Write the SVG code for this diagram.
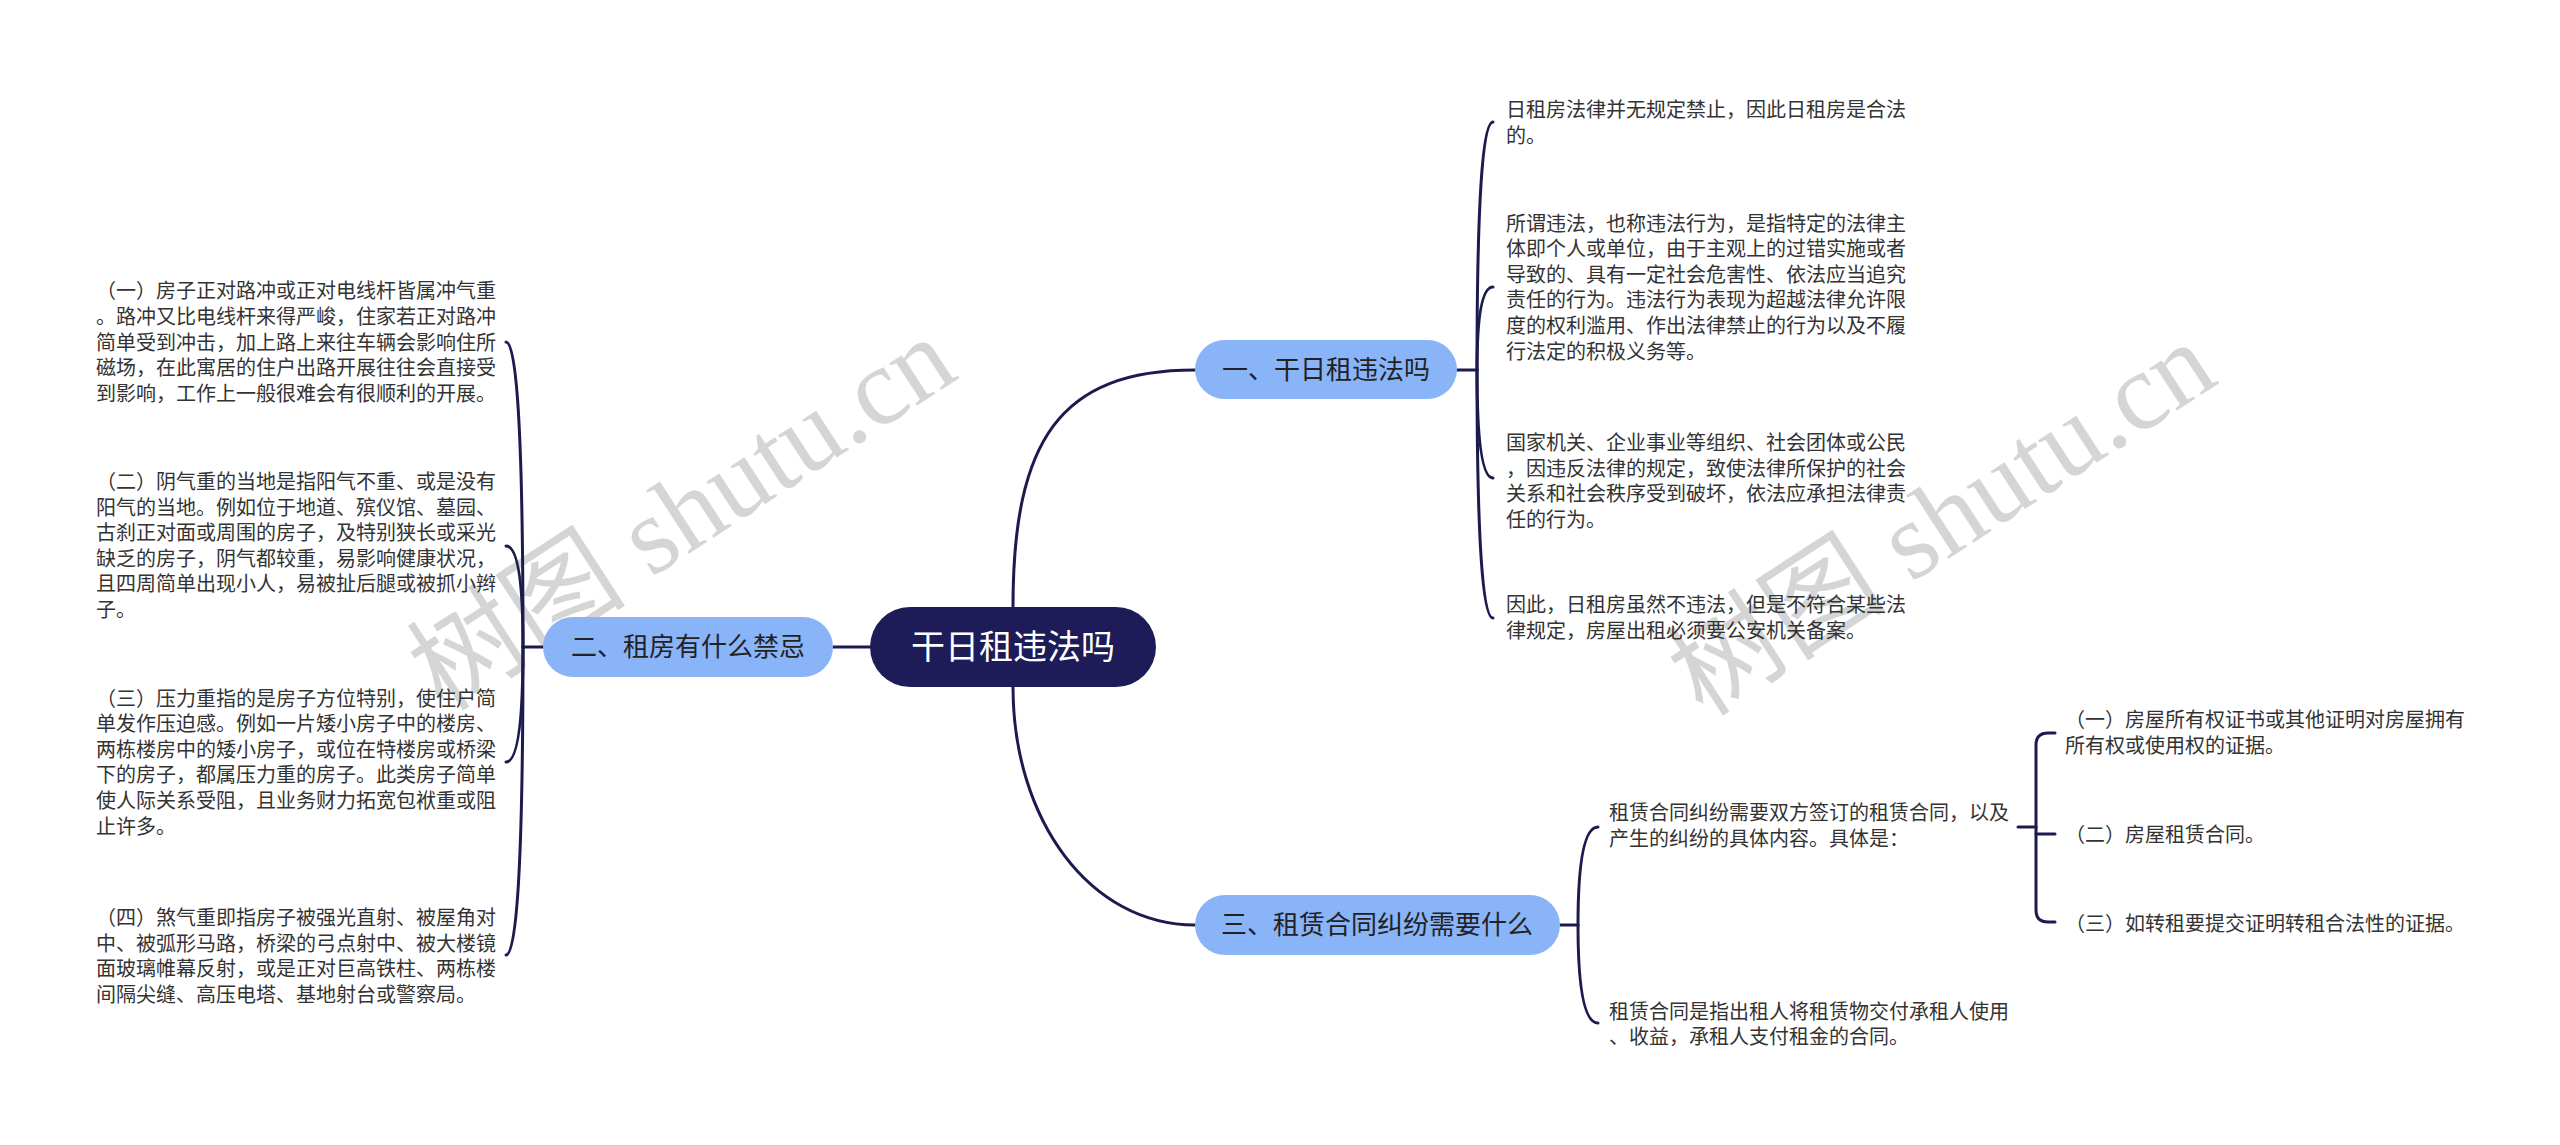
<svg xmlns="http://www.w3.org/2000/svg" width="2560" height="1145" viewBox="0 0 2560 1145">
<style>
.t{font-family:"Noto Sans CJK SC","Noto Sans",sans-serif;font-size:20px;fill:#333}
.b{font-family:"Noto Sans CJK SC","Noto Sans",sans-serif;font-size:26px;fill:#222;text-anchor:middle}
.c{font-family:"Noto Sans CJK SC","Noto Sans",sans-serif;font-size:34px;fill:#fff;text-anchor:middle}
.bn{fill:#8ab4f8}
.l{fill:none;stroke:#1c1b4f;stroke-width:3;stroke-linecap:round}
.w{font-family:"Liberation Serif","Noto Sans CJK SC",serif;font-size:110px;fill:#c8c8c8;opacity:0.75;text-anchor:middle}
</style>
<rect width="2560" height="1145" fill="#fff"/>
<g id="watermark">
<text class="w" transform="translate(702,545) rotate(-33)">树图 shutu.cn</text>
<text class="w" transform="translate(1962,550) rotate(-33)">树图 shutu.cn</text>
</g>
<g id="connectors">
<path class="l" d="M1013,607 C1013,440 1060,370 1195,370"/>
<path class="l" d="M1013,687 C1013,820 1090,925 1195,925"/>
<path class="l" d="M870,647 L833,647"/>
<path class="l" d="M1457,370 L1477,370"/>
<path class="l" d="M1477,370 Q1477,122 1493,122"/>
<path class="l" d="M1477,370 Q1477,287 1493,287"/>
<path class="l" d="M1477,370 Q1477,478 1493,478"/>
<path class="l" d="M1477,370 Q1477,618 1493,618"/>
<path class="l" d="M543,647 L523,647"/>
<path class="l" d="M523,647 Q523,342 506,342"/>
<path class="l" d="M523,647 Q523,546 506,546"/>
<path class="l" d="M523,647 Q523,762 506,762"/>
<path class="l" d="M523,647 Q523,955 506,955"/>
<path class="l" d="M1560,925 L1578,925"/>
<path class="l" d="M1578,925 Q1578,827 1598,827"/>
<path class="l" d="M1578,925 Q1578,1023 1598,1023"/>
<path class="l" d="M2018,827 L2036,827"/>
<path class="l" d="M2036,827 L2036,745 Q2036,733 2048,733 L2055,733"/>
<path class="l" d="M2036,827 L2036,910 Q2036,922 2048,922 L2055,922"/>
<path class="l" d="M2036,834 L2055,834"/>
</g>
<g id="root">
<rect x="870" y="607" width="286" height="80" rx="40" fill="#1d1b58"/>
<text class="c" x="1013" y="659">干日租违法吗</text>
</g>
<g id="b1">
<rect class="bn" x="1195" y="340" width="262" height="59" rx="29.5"/>
<text class="b" x="1326" y="379">一、干日租违法吗</text>
</g>
<g id="b2">
<rect class="bn" x="543" y="617" width="290" height="60" rx="30"/>
<text class="b" x="688" y="656">二、租房有什么禁忌</text>
</g>
<g id="b3">
<rect class="bn" x="1195" y="895" width="365" height="60" rx="30"/>
<text class="b" x="1377" y="934">三、租赁合同纠纷需要什么</text>
</g>
<g id="b1c1">
<text class="t"><tspan x="1506" y="117">日租房法律并无规定禁止，因此日租房是合法</tspan><tspan x="1506" y="142.6">的。</tspan></text>
</g>
<g id="b1c2">
<text class="t"><tspan x="1506" y="230.5">所谓违法，也称违法行为，是指特定的法律主</tspan><tspan x="1506" y="256.1">体即个人或单位，由于主观上的过错实施或者</tspan><tspan x="1506" y="281.7">导致的、具有一定社会危害性、依法应当追究</tspan><tspan x="1506" y="307.3">责任的行为。违法行为表现为超越法律允许限</tspan><tspan x="1506" y="332.9">度的权利滥用、作出法律禁止的行为以及不履</tspan><tspan x="1506" y="358.5">行法定的积极义务等。</tspan></text>
</g>
<g id="b1c3">
<text class="t"><tspan x="1506" y="450">国家机关、企业事业等组织、社会团体或公民</tspan><tspan x="1506" y="475.6">，因违反法律的规定，致使法律所保护的社会</tspan><tspan x="1506" y="501.2">关系和社会秩序受到破坏，依法应承担法律责</tspan><tspan x="1506" y="526.8">任的行为。</tspan></text>
</g>
<g id="b1c4">
<text class="t"><tspan x="1506" y="612">因此，日租房虽然不违法，但是不符合某些法</tspan><tspan x="1506" y="637.6">律规定，房屋出租必须要公安机关备案。</tspan></text>
</g>
<g id="b2c1">
<text class="t"><tspan x="96" y="298.3">（一）房子正对路冲或正对电线杆皆属冲气重</tspan><tspan x="96" y="323.9">。路冲又比电线杆来得严峻，住家若正对路冲</tspan><tspan x="96" y="349.5">简单受到冲击，加上路上来往车辆会影响住所</tspan><tspan x="96" y="375.1">磁场，在此寓居的住户出路开展往往会直接受</tspan><tspan x="96" y="400.7">到影响，工作上一般很难会有很顺利的开展。</tspan></text>
</g>
<g id="b2c2">
<text class="t"><tspan x="96" y="489">（二）阴气重的当地是指阳气不重、或是没有</tspan><tspan x="96" y="514.6">阳气的当地。例如位于地道、殡仪馆、墓园、</tspan><tspan x="96" y="540.2">古刹正对面或周围的房子，及特别狭长或采光</tspan><tspan x="96" y="565.8">缺乏的房子，阴气都较重，易影响健康状况，</tspan><tspan x="96" y="591.4">且四周简单出现小人，易被扯后腿或被抓小辫</tspan><tspan x="96" y="617">子。</tspan></text>
</g>
<g id="b2c3">
<text class="t"><tspan x="96" y="705.5">（三）压力重指的是房子方位特别，使住户简</tspan><tspan x="96" y="731.1">单发作压迫感。例如一片矮小房子中的楼房、</tspan><tspan x="96" y="756.7">两栋楼房中的矮小房子，或位在特楼房或桥梁</tspan><tspan x="96" y="782.3">下的房子，都属压力重的房子。此类房子简单</tspan><tspan x="96" y="807.9">使人际关系受阻，且业务财力拓宽包袱重或阻</tspan><tspan x="96" y="833.5">止许多。</tspan></text>
</g>
<g id="b2c4">
<text class="t"><tspan x="96" y="925.1">（四）煞气重即指房子被强光直射、被屋角对</tspan><tspan x="96" y="950.7">中、被弧形马路，桥梁的弓点射中、被大楼镜</tspan><tspan x="96" y="976.3">面玻璃帷幕反射，或是正对巨高铁柱、两栋楼</tspan><tspan x="96" y="1001.9">间隔尖缝、高压电塔、基地射台或警察局。</tspan></text>
</g>
<g id="b3c1">
<text class="t"><tspan x="1609" y="820.2">租赁合同纠纷需要双方签订的租赁合同，以及</tspan><tspan x="1609" y="845.8">产生的纠纷的具体内容。具体是：</tspan></text>
</g>
<g id="b3c2">
<text class="t"><tspan x="1609" y="1018.7">租赁合同是指出租人将租赁物交付承租人使用</tspan><tspan x="1609" y="1044.3">、收益，承租人支付租金的合同。</tspan></text>
</g>
<g id="s1">
<text class="t"><tspan x="2065" y="727.2">（一）房屋所有权证书或其他证明对房屋拥有</tspan><tspan x="2065" y="752.8">所有权或使用权的证据。</tspan></text>
</g>
<g id="s2">
<text class="t"><tspan x="2065" y="842">（二）房屋租赁合同。</tspan></text>
</g>
<g id="s3">
<text class="t"><tspan x="2065" y="931">（三）如转租要提交证明转租合法性的证据。</tspan></text>
</g>
</svg>
